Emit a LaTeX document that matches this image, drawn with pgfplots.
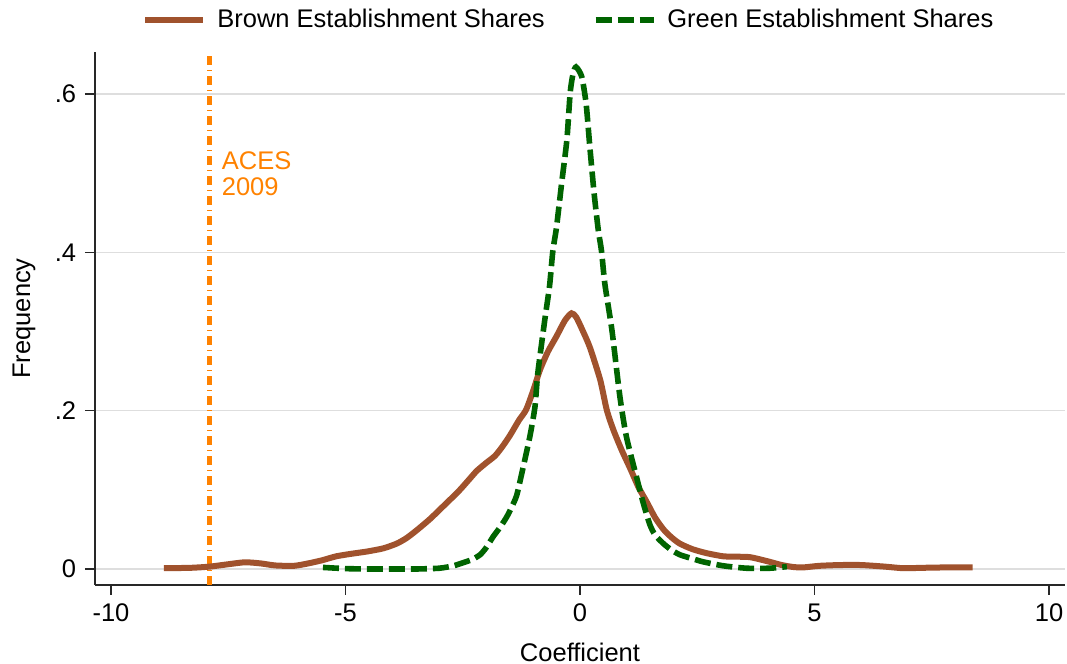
\documentclass[border=0pt]{standalone}
\usepackage{fontspec}
\setmainfont{Liberation Sans}
\usepackage{pgfplots}
\pgfplotsset{compat=1.18}
\definecolor{brownc}{RGB}{160,82,45}
\definecolor{greenc}{RGB}{0,100,0}
\definecolor{orangec}{RGB}{255,130,0}
\definecolor{gridc}{RGB}{222,222,222}
\definecolor{axc}{RGB}{40,40,40}
\begin{document}
\fontsize{12.75}{15}\selectfont
\begin{tikzpicture}
\useasboundingbox (-47.5pt,-39.5pt) rectangle (486pt,292.5pt);
\begin{axis}[
  at={(0,0)}, anchor=south west,
  scale only axis, width=485pt, height=266.5pt,
  xmin=-10.34, xmax=10.34, ymin=-0.0202, ymax=0.653,
  axis x line*=bottom, axis y line*=left,
  axis line style={axc, line width=0.75pt, -},
  xtick={-10,-5,0,5,10}, xticklabels={-10,-5,0,5,10},
  ytick={0,0.2,0.4,0.6}, yticklabels={0,.2,.4,.6},
  tick align=outside, major tick length=5pt,
  tick style={axc, line width=0.75pt},
  ymajorgrids, grid style={gridc, line width=0.6pt},
  xlabel={Coefficient}, ylabel={Frequency},
  every axis x label/.style={at={(axis description cs:0.5,0)}, anchor=center, yshift=-33.5pt},
  every axis y label/.style={at={(axis description cs:0,0.5)}, xshift=-35.5pt, anchor=center, rotate=90},
  legend columns=2,
  legend style={at={(0,1)}, anchor=west, xshift=23.5pt, yshift=16pt, draw=none, fill=none, inner sep=0pt,
    nodes={inner sep=0pt}, column sep=5.5pt,
    /tikz/every even column/.append style={column sep=24pt}},
  legend image code/.code={\draw[#1] (0pt,0pt) -- (29pt,0pt);},
]
\addplot[orangec, line width=2.5pt, dash pattern=on 4.5pt off 2.5pt on 0.5pt off 2.5pt, forget plot]
  coordinates {(-7.9,-0.0202) (-7.9,0.653)};
\addplot[brownc, line width=3pt, smooth, tension=0.4] coordinates {
(-8.87,0.001) (-8.3,0.0015) (-7.9,0.003) (-7.5,0.006) (-7.14,0.0085) (-6.8,0.007)
(-6.5,0.0045) (-6.1,0.004) (-5.8,0.007) (-5.5,0.011) (-5.2,0.016) (-4.9,0.019)
(-4.55,0.022) (-4.2,0.026) (-3.91,0.032) (-3.7,0.039) (-3.48,0.049) (-3.2,0.063)
(-2.99,0.075) (-2.78,0.087) (-2.56,0.100) (-2.35,0.114) (-2.2,0.124) (-2.0,0.134)
(-1.81,0.143) (-1.65,0.155) (-1.49,0.169) (-1.3,0.188) (-1.15,0.201) (-1.0,0.225)
(-0.85,0.252) (-0.68,0.275) (-0.5,0.294) (-0.32,0.314) (-0.18,0.323) (-0.08,0.318)
(0.05,0.302) (0.21,0.280) (0.43,0.239) (0.57,0.201) (0.71,0.176) (0.89,0.150)
(1.07,0.127) (1.25,0.103) (1.42,0.085) (1.6,0.065) (1.78,0.050) (1.95,0.040)
(2.13,0.032) (2.4,0.025) (2.70,0.020) (3.06,0.016) (3.4,0.0155) (3.62,0.015)
(3.85,0.012) (4.05,0.009) (4.3,0.005) (4.55,0.0025) (4.76,0.002) (5.1,0.004)
(5.54,0.005) (6.0,0.005) (6.5,0.003) (6.89,0.001) (7.3,0.0015) (7.8,0.002) (8.37,0.002)
};
\addlegendentry{Brown Establishment Shares}
\addplot[greenc, line width=2.8pt, dash pattern=on 8pt off 3pt, smooth, tension=0.4] coordinates {
(-5.48,0.002) (-5.0,0.0005) (-4.5,0.0) (-4.0,0.0) (-3.5,0.0) (-3.0,0.001) (-2.7,0.004)
(-2.49,0.008) (-2.3,0.012) (-2.13,0.018) (-2.0,0.027) (-1.85,0.041) (-1.7,0.053)
(-1.56,0.066) (-1.45,0.079) (-1.35,0.093) (-1.24,0.121) (-1.07,0.167) (-0.96,0.205)
(-0.9,0.247) (-0.75,0.315) (-0.65,0.357) (-0.58,0.401) (-0.5,0.432) (-0.39,0.488)
(-0.28,0.542) (-0.21,0.601) (-0.15,0.625) (-0.085,0.634) (0.036,0.622) (0.13,0.588)
(0.21,0.533) (0.30,0.475) (0.39,0.428) (0.46,0.401) (0.53,0.360) (0.68,0.302)
(0.85,0.218) (0.99,0.167) (1.21,0.115) (1.35,0.083) (1.49,0.056) (1.6,0.043)
(1.78,0.032) (1.95,0.024) (2.13,0.018) (2.4,0.013) (2.63,0.009) (3.06,0.004)
(3.55,0.001) (4.05,0.001) (4.41,0.003)
};
\addlegendentry{Green Establishment Shares}
\node[anchor=west, text=orangec, align=left, inner sep=0pt, xshift=6pt, font=\fontsize{12.75}{13}\selectfont]
  at (axis cs:-7.9,0.499) {ACES\\2009};
\end{axis}
\end{tikzpicture}
\end{document}
